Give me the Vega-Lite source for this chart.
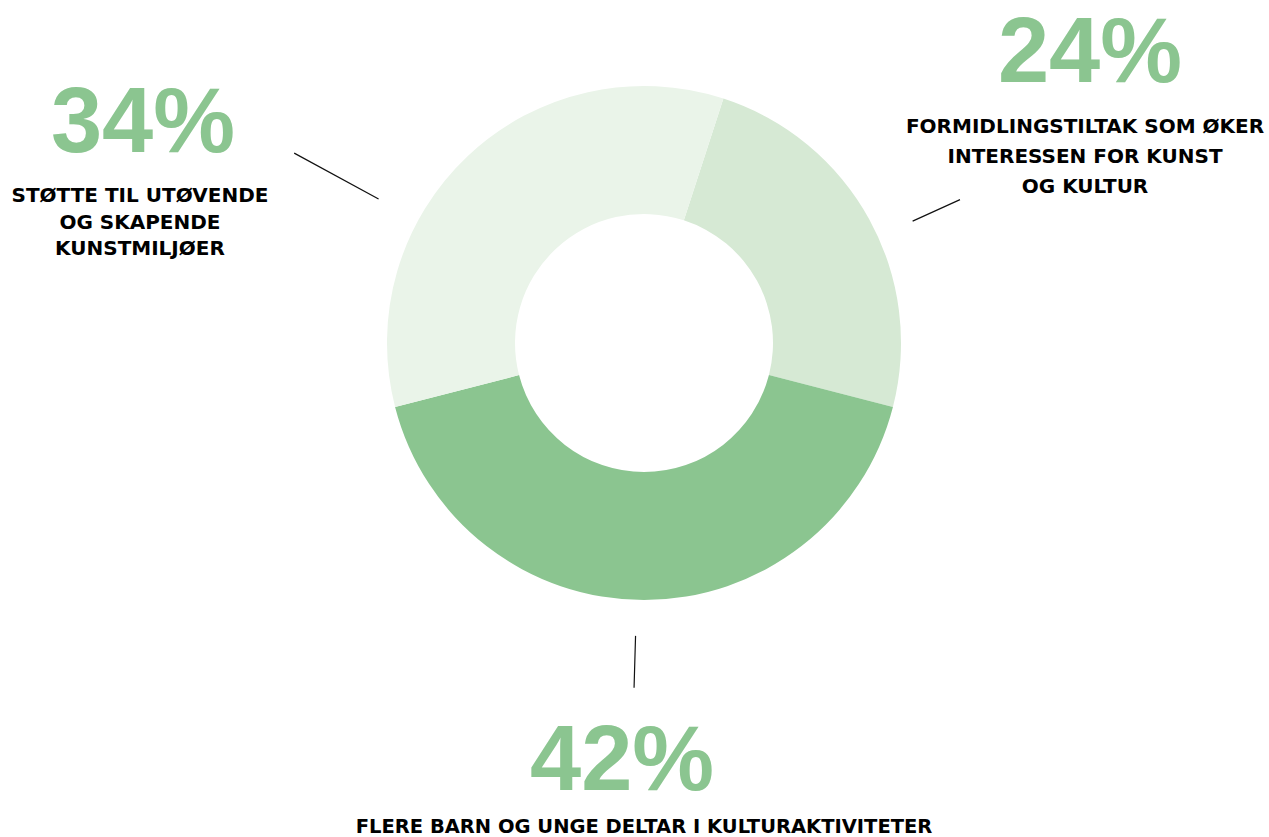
{
  "$schema": "https://vega.github.io/schema/vega-lite/v6.json",
  "width": 1250,
  "height": 686,
  "autosize": {"type": "none"},
  "padding": {"left": 19, "top": 0, "right": 0, "bottom": 151},
  "background": "#ffffff",
  "config": {"view": {"stroke": null}},
  "data": {
    "values": [
      {"category": "Formidlingstiltak", "value": 0.24, "order": 1, "label": "FORMIDLINGSTILTAK SOM ØKER\nINTERESSEN FOR KUNST\nOG KULTUR"},
      {"category": "Barn og unge", "value": 0.42, "order": 2, "label": "FLERE BARN OG UNGE  DELTAR I KULTURAKTIVITETER"},
      {"category": "Kunstmiljøer", "value": 0.34, "order": 3, "label": "STØTTE TIL UTØVENDE\nOG SKAPENDE\nKUNSTMILJØER"}
    ]
  },
  "transform": [
    {"stack": "value", "groupby": [], "sort": [{"field": "order", "order": "ascending"}], "as": ["v0", "v1"]}
  ],
  "layer": [
    {
      "mark": {"type": "arc", "outerRadius": 257, "innerRadius": 129},
      "encoding": {
        "theta": {"field": "v0", "type": "quantitative", "scale": {"domain": [0, 1], "range": [0.31416, 6.59734]}},
        "theta2": {"field": "v1"},
        "color": {
          "field": "category", "type": "nominal", "legend": null,
          "scale": {"domain": ["Formidlingstiltak", "Barn og unge", "Kunstmiljøer"], "range": ["#d6e9d4", "#8bc590", "#eaf4e9"]}
        }
      }
    },
    {
      "transform": [{"filter": "datum.category === 'Kunstmiljøer'"}],
      "mark": {"type": "arc", "radius": 398, "radius2": 302, "thetaOffset": 0.7487, "theta2Offset": 0.7487, "fill": null, "stroke": "#111111", "strokeWidth": 1.2},
      "encoding": {"theta": {"field": "v0", "type": "quantitative"}, "theta2": {"field": "v0"}}
    },
    {
      "transform": [{"filter": "datum.category === 'Formidlingstiltak'"}],
      "mark": {"type": "arc", "radius": 347, "radius2": 295, "thetaOffset": 0.8308, "theta2Offset": 0.8308, "fill": null, "stroke": "#111111", "strokeWidth": 1.2},
      "encoding": {"theta": {"field": "v0", "type": "quantitative"}, "theta2": {"field": "v0"}}
    },
    {
      "transform": [{"filter": "datum.category === 'Barn og unge'"}],
      "mark": {"type": "arc", "radius": 345, "radius2": 293, "thetaOffset": 1.3483, "theta2Offset": 1.3483, "fill": null, "stroke": "#111111", "strokeWidth": 1.2},
      "encoding": {"theta": {"field": "v0", "type": "quantitative"}, "theta2": {"field": "v0"}}
    },
    {
      "transform": [{"filter": "datum.category === 'Formidlingstiltak'"}],
      "mark": {"type": "text", "radius": 257, "dx": 366.6, "dy": -16.6, "align": "center", "baseline": "alphabetic", "font": "Liberation Sans", "fontWeight": "bold", "fontSize": 92, "color": "#8bc590"},
      "encoding": {"theta": {"field": "v0", "type": "quantitative"}, "text": {"field": "value", "type": "quantitative", "format": ".0%"}}
    },
    {
      "transform": [{"filter": "datum.category === 'Formidlingstiltak'"}],
      "mark": {"type": "text", "radius": 257, "dx": 361.6, "dy": 34.4, "align": "center", "baseline": "alphabetic", "font": "DejaVu Sans", "fontWeight": "bold", "fontSize": 20, "lineHeight": 30, "lineBreak": "\n", "color": "#000000"},
      "encoding": {"theta": {"field": "v0", "type": "quantitative"}, "text": {"field": "label", "type": "nominal"}}
    },
    {
      "transform": [{"filter": "datum.category === 'Barn og unge'"}],
      "mark": {"type": "text", "radius": 257, "dx": -270.9, "dy": 383.1, "align": "center", "baseline": "alphabetic", "font": "Liberation Sans", "fontWeight": "bold", "fontSize": 92, "color": "#8bc590"},
      "encoding": {"theta": {"field": "v0", "type": "quantitative"}, "text": {"field": "value", "type": "quantitative", "format": ".0%"}}
    },
    {
      "transform": [{"filter": "datum.category === 'Barn og unge'"}],
      "mark": {"type": "text", "radius": 257, "dx": -248.9, "dy": 425.6, "align": "center", "baseline": "alphabetic", "font": "DejaVu Sans", "fontWeight": "bold", "fontSize": 19.5, "color": "#000000"},
      "encoding": {"theta": {"field": "v0", "type": "quantitative"}, "text": {"field": "label", "type": "nominal"}}
    },
    {
      "transform": [{"filter": "datum.category === 'Kunstmiljøer'"}],
      "mark": {"type": "text", "radius": 257, "dx": -252.1, "dy": -254.9, "align": "center", "baseline": "alphabetic", "font": "Liberation Sans", "fontWeight": "bold", "fontSize": 92, "color": "#8bc590"},
      "encoding": {"theta": {"field": "v0", "type": "quantitative"}, "text": {"field": "value", "type": "quantitative", "format": ".0%"}}
    },
    {
      "transform": [{"filter": "datum.category === 'Kunstmiljøer'"}],
      "mark": {"type": "text", "radius": 257, "dx": -255.1, "dy": -204.9, "align": "center", "baseline": "alphabetic", "font": "DejaVu Sans", "fontWeight": "bold", "fontSize": 20, "lineHeight": 26.5, "lineBreak": "\n", "color": "#000000"},
      "encoding": {"theta": {"field": "v0", "type": "quantitative"}, "text": {"field": "label", "type": "nominal"}}
    }
  ]
}
